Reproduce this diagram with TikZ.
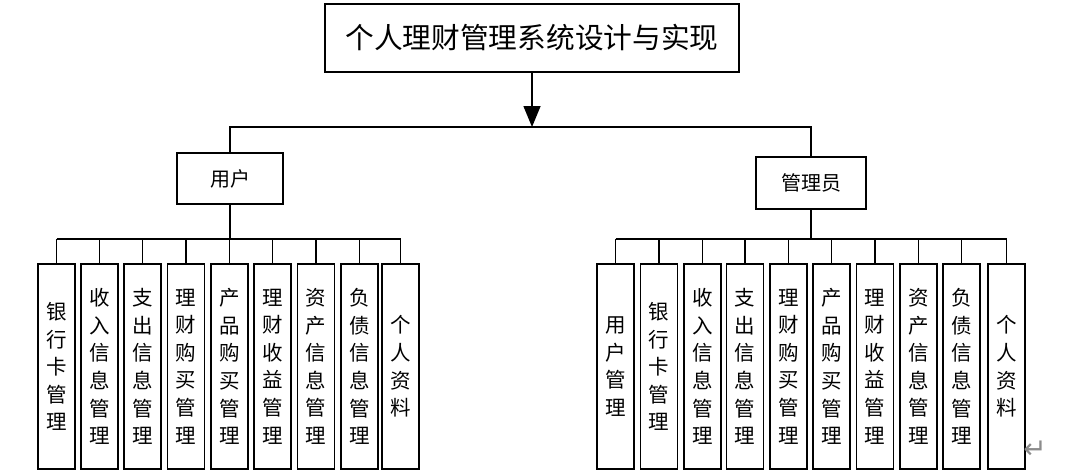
\documentclass[tikz,border=0pt]{standalone}
\usepackage{fontspec}
\setmainfont{Noto Sans CJK SC}
\newfontfamily\symfont{DejaVu Sans}
\usetikzlibrary{arrows.meta}
\begin{document}
\begin{tikzpicture}[x=1pt,y=-1pt,
  box/.style={draw,line width=1.5pt,inner sep=0pt},
  link/.style={line width=1.5pt},
  leaf/.style={box,minimum width=37pt,minimum height=205pt,align=center,
    font=\fontsize{20.5}{27.6}\selectfont},
  mid/.style={box,font=\fontsize{20}{25}\selectfont}]
\useasboundingbox (0,0) rectangle (1067,471);
\node[box,minimum width=414pt,minimum height=68pt,font=\fontsize{28.7}{34}\selectfont] (title) at (532,38) {个人理财管理系统设计与实现};
\node[mid,minimum width=106pt,minimum height=51pt] (user) at (230,178.5) {用户};
\node[mid,minimum width=110pt,minimum height=52pt] (admin) at (811,183) {管理员};
\coordinate (tb) at (532,127);
\coordinate (ubus) at (230,239);
\coordinate (abus) at (811,239);
\draw[link,-{Triangle[length=21pt,width=17pt]}] (title.south) -- (tb);
\draw[link] (user.north) |- (tb) -| (admin.north);
% user children
\node[leaf] (u1) at (56.5,366.5) {银\\行\\卡\\管\\理};
\node[leaf] (u2) at (99.5,366.5) {收\\入\\信\\息\\管\\理};
\node[leaf] (u3) at (142.5,366.5) {支\\出\\信\\息\\管\\理};
\node[leaf] (u4) at (186,366.5) {理\\财\\购\\买\\管\\理};
\node[leaf] (u5) at (229.5,366.5) {产\\品\\购\\买\\管\\理};
\node[leaf] (u6) at (272.5,366.5) {理\\财\\收\\益\\管\\理};
\node[leaf] (u7) at (316,366.5) {资\\产\\信\\息\\管\\理};
\node[leaf] (u8) at (359.5,366.5) {负\\债\\信\\息\\管\\理};
\node[leaf] (u9) at (400.5,366.5) {个\\人\\资\\料};
\draw[link] (user.south) -- (ubus);
\draw[link] (u1.north |- ubus) -- (u9.north |- ubus);
\foreach \c in {u1,u2,u3,u4,u5,u6,u7,u8,u9}
  \draw[link] (\c.north) -- (\c.north |- ubus);
% admin children
\node[leaf] (a1) at (615.5,366.5) {用\\户\\管\\理};
\node[leaf] (a2) at (659,366.5) {银\\行\\卡\\管\\理};
\node[leaf] (a3) at (702.5,366.5) {收\\入\\信\\息\\管\\理};
\node[leaf] (a4) at (745,366.5) {支\\出\\信\\息\\管\\理};
\node[leaf] (a5) at (788.5,366.5) {理\\财\\购\\买\\管\\理};
\node[leaf] (a6) at (831.5,366.5) {产\\品\\购\\买\\管\\理};
\node[leaf] (a7) at (875,366.5) {理\\财\\收\\益\\管\\理};
\node[leaf] (a8) at (918.5,366.5) {资\\产\\信\\息\\管\\理};
\node[leaf] (a9) at (961.5,366.5) {负\\债\\信\\息\\管\\理};
\node[leaf] (a10) at (1006.5,366.5) {个\\人\\资\\料};
\draw[link] (admin.south) -- (abus);
\draw[link] (a1.north |- abus) -- (a10.north |- abus);
\foreach \c in {a1,a2,a3,a4,a5,a6,a7,a8,a9,a10}
  \draw[link] (\c.north) -- (\c.north |- abus);
\node[text=black!45,font=\symfont\fontsize{28}{28}\selectfont,inner sep=0pt] (mark) at (1035,450) {↵};
\end{tikzpicture}
\end{document}
